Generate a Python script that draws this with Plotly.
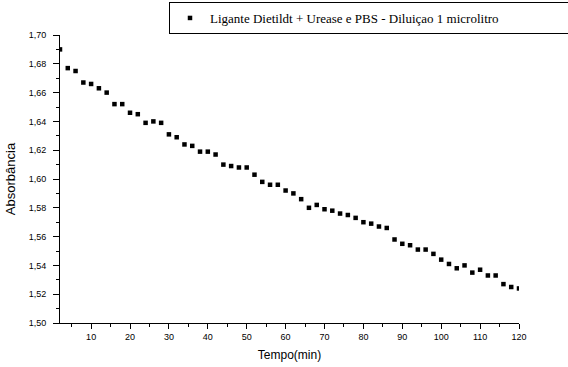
import plotly.graph_objects as go

tempo = [2, 4, 6, 8, 10, 12, 14, 16, 18, 20, 22, 24, 26, 28, 30, 32, 34, 36, 38, 40,
         42, 44, 46, 48, 50, 52, 54, 56, 58, 60, 62, 64, 66, 68, 70, 72, 74, 76, 78, 80,
         82, 84, 86, 88, 90, 92, 94, 96, 98, 100, 102, 104, 106, 108, 110, 112, 114, 116, 118, 120]
absorbancia = [1.690, 1.677, 1.675, 1.667, 1.666, 1.663, 1.660, 1.652, 1.652, 1.646,
               1.645, 1.639, 1.640, 1.639, 1.631, 1.629, 1.624, 1.623, 1.619, 1.619,
               1.617, 1.610, 1.609, 1.608, 1.608, 1.603, 1.598, 1.596, 1.596, 1.592,
               1.590, 1.586, 1.580, 1.582, 1.579, 1.578, 1.576, 1.575, 1.573, 1.570,
               1.569, 1.567, 1.566, 1.558, 1.555, 1.554, 1.551, 1.551, 1.548, 1.544,
               1.541, 1.538, 1.540, 1.535, 1.537, 1.533, 1.533, 1.527, 1.525, 1.524]
serie_nome = "Ligante Dietildt + Urease e PBS - Diluiçao 1 microlitro"
x_titulo = "Tempo(min)"
y_titulo = "Absorbância"

fig = go.Figure()
fig.add_trace(go.Scatter(
    x=tempo, y=absorbancia, mode="markers", name=serie_nome,
    marker=dict(symbol="square", size=4.5, color="black", line=dict(width=0)),
    showlegend=True,
))

axis_font = dict(family="Liberation Sans, Arial, sans-serif", size=9, color="black")

fig.update_layout(
    width=568, height=367,
    margin=dict(l=60, r=49, t=35, b=44, autoexpand=False),
    paper_bgcolor="white", plot_bgcolor="white",
    separators=",.",
    showlegend=True,
    legend=dict(
        xref="container", yref="container",
        x=169/568, xanchor="left", y=1 - 2/367, yanchor="top",
        orientation="h", entrywidth=360,
        bordercolor="black", borderwidth=1, bgcolor="white",
        font=dict(family="Liberation Serif, Times New Roman, serif", size=13, color="black"),
        itemsizing="trace",
    ),
    xaxis=dict(
        range=[2, 120], tick0=0, dtick=10, ticks="outside", ticklen=5, tickcolor="black",
        showline=True, linecolor="black", linewidth=1, mirror=False,
        showgrid=False, zeroline=False, tickfont=axis_font, tickangle=0,
        minor=dict(dtick=5, ticks="outside", ticklen=3, tickcolor="black", showgrid=False),
        title=dict(text=x_titulo, font=dict(family="Liberation Sans, Arial, sans-serif", size=12, color="black"), standoff=9),
    ),
    yaxis=dict(
        range=[1.50, 1.70], tick0=1.5, dtick=0.02, tickformat=".2f",
        ticks="outside", ticklen=6, tickcolor="black", ticklabelstandoff=5,
        showline=True, linecolor="black", linewidth=1, mirror=False,
        showgrid=False, zeroline=False, tickfont=axis_font,
        minor=dict(dtick=0.01, ticks="outside", ticklen=3, tickcolor="black", showgrid=False),
        title=dict(text=y_titulo, font=dict(family="Liberation Sans, Arial, sans-serif", size=13, color="black"), standoff=10),
    ),
)

fig.write_html("out.html", config={"displayModeBar": False},
               post_script="document.body.style.margin='0';")
